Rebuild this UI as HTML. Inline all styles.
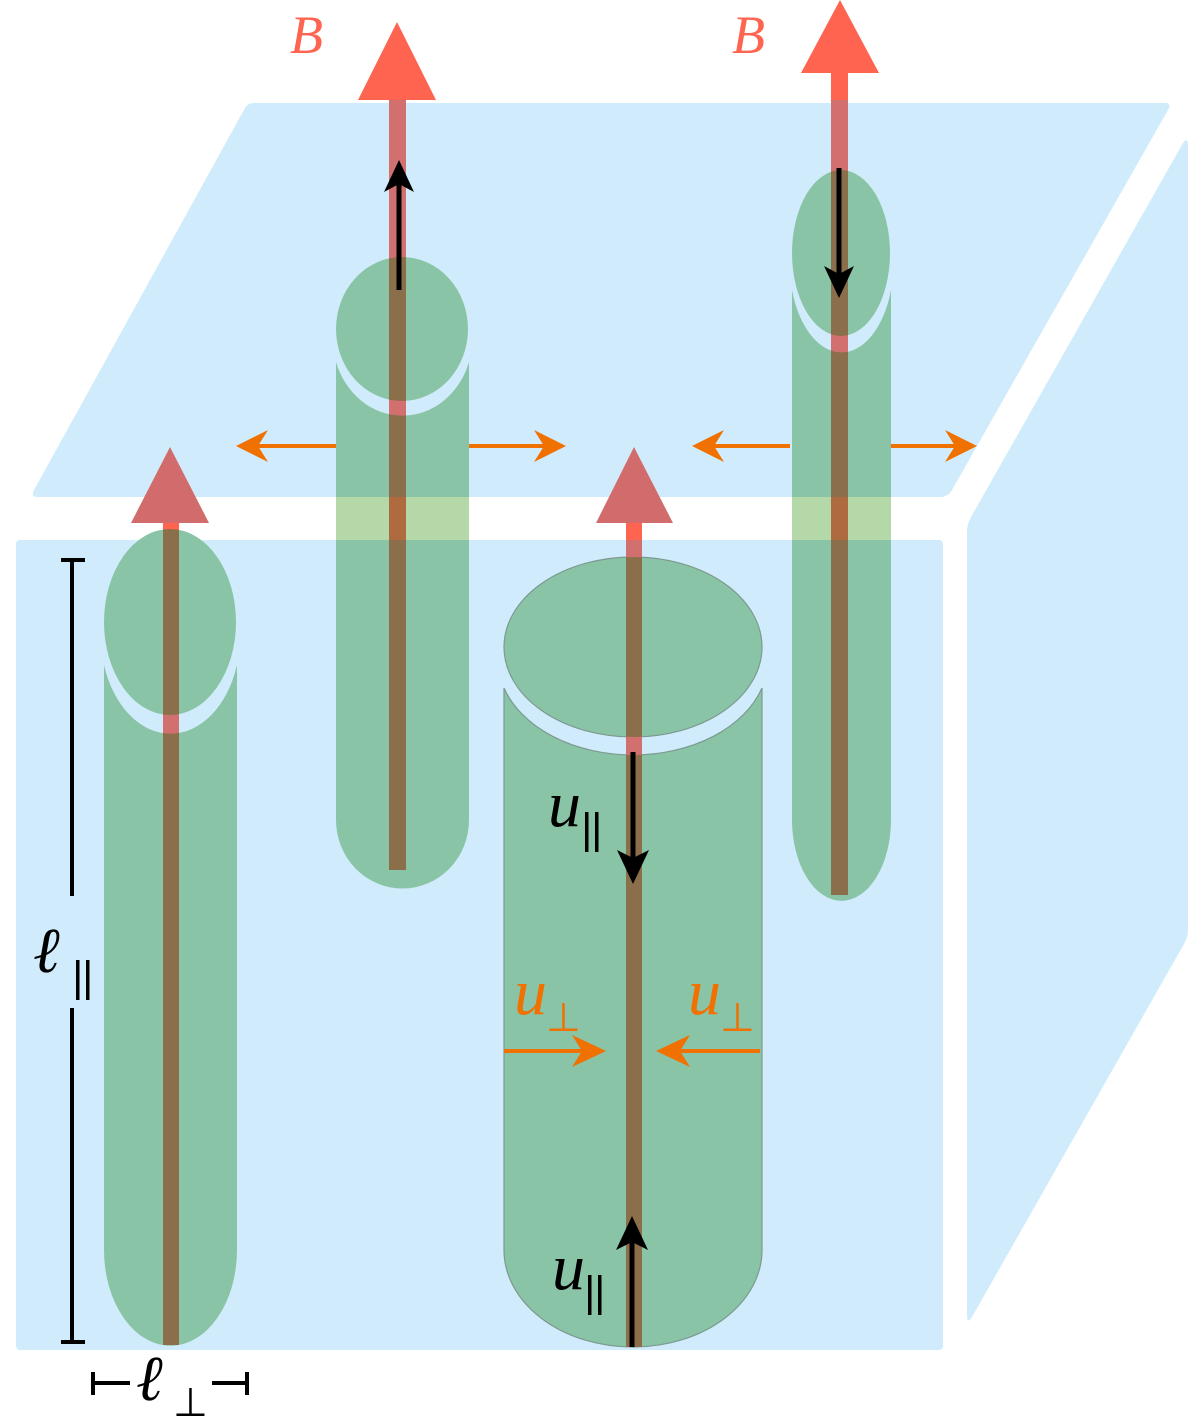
<!DOCTYPE html>
<html><head><meta charset="utf-8"><style>html,body{margin:0;padding:0;background:#fff}svg{display:block}</style></head>
<body>
<svg width="1200" height="1421" viewBox="0 0 1200 1421" xmlns="http://www.w3.org/2000/svg">
<defs>
<clipPath id="cyl">
  <ellipse cx="170" cy="622" rx="66" ry="93"/>
  <path d="M104 665 A70 100 0 0 0 237 665 L237 1250 A66 95 0 0 1 104 1250 Z"/>
  <ellipse cx="402" cy="329" rx="66" ry="72"/>
  <path d="M336 362 A70 78 0 0 0 469 362 L469 820 A66 68 0 0 1 336 820 Z"/>
  <ellipse cx="841" cy="253" rx="49" ry="83"/>
  <path d="M792 290 A52 90 0 0 0 891 290 L891 820 A49 80 0 0 1 792 820 Z"/>
  <ellipse cx="633" cy="647" rx="129" ry="90"/>
  <path d="M504 688 A135 95 0 0 0 762 688 L762 1250 A129 97 0 0 1 504 1250 Z"/>
</clipPath>
</defs>
<path d="M34 490 L245 108 Q248 103 254 103 L1165 103 Q1172 103 1168 110 L952 490 Q948 497 940 497 L38 497 Q30 497 34 490 Z" fill="#d0ecfc"/>
<rect x="16" y="540" width="927" height="810" rx="4" fill="#d0ecfc"/>
<path d="M967 532 Q967 524 971 517 L1183 143 Q1188 136 1188 146 L1188 930 Q1188 937 1184 944 L972 1317 Q967 1325 967 1315 Z" fill="#d0ecfc"/>
<rect x="389" y="95" width="17" height="10" fill="#ff6450"/>
<rect x="831" y="70" width="17" height="35" fill="#ff6450"/>
<g fill="#8ac4a6">
  <ellipse cx="170" cy="622" rx="66" ry="93"/>
  <path d="M104 665 A70 100 0 0 0 237 665 L237 1250 A66 95 0 0 1 104 1250 Z"/>
  <ellipse cx="402" cy="329" rx="66" ry="72"/>
  <path d="M336 362 A70 78 0 0 0 469 362 L469 820 A66 68 0 0 1 336 820 Z"/>
  <ellipse cx="841" cy="253" rx="49" ry="83"/>
  <path d="M792 290 A52 90 0 0 0 891 290 L891 820 A49 80 0 0 1 792 820 Z"/>
</g>
<g fill="#8ac4a6" stroke="#7c9a90" stroke-width="1.2">
  <ellipse cx="633" cy="647" rx="129" ry="90"/>
  <path d="M504 688 A135 95 0 0 0 762 688 L762 1250 A129 97 0 0 1 504 1250 Z"/>
</g>
<rect x="336" y="497" width="133" height="43" fill="#b4d8a8"/>
<rect x="792" y="497" width="99" height="43" fill="#b4d8a8"/>
<g fill="#d27070">
  <rect x="389" y="100" width="17" height="770"/>
  <rect x="831" y="100" width="17" height="795"/>
  <rect x="163" y="520" width="16" height="825"/>
  <rect x="626" y="520" width="16" height="827"/>
</g>
<rect x="389" y="497" width="17" height="43" fill="#b06a40"/>
<rect x="831" y="497" width="17" height="43" fill="#b06a40"/>
<rect x="163" y="520" width="16" height="20" fill="#ff6450"/>
<rect x="626" y="520" width="16" height="20" fill="#ff6450"/>
<g clip-path="url(#cyl)" fill="#8b6f4a">
  <rect x="389" y="100" width="17" height="397"/>
  <rect x="389" y="540" width="17" height="330"/>
  <rect x="831" y="100" width="17" height="397"/>
  <rect x="831" y="540" width="17" height="355"/>
  <rect x="163" y="520" width="16" height="825"/>
  <rect x="626" y="520" width="16" height="827"/>
</g>
<g fill="#ff6450">
  <polygon points="397,22 358,100 436,100"/>
  <polygon points="840,0 801,73 879,73"/>
</g>
<g fill="#d26c6c">
  <polygon points="170,447 131,523 209,523"/>
  <polygon points="634,447 596,523 673,523"/>
</g>
<g stroke="#000" stroke-width="5">
  <line x1="399" y1="290" x2="399" y2="180"/>
  <line x1="839" y1="168" x2="839" y2="280"/>
  <line x1="633" y1="752" x2="633" y2="865"/>
  <line x1="632" y1="1347" x2="632" y2="1240"/>
</g>
<g fill="#000">
  <polygon points="399,160 384,192 399,184 414,192"/>
  <polygon points="839,298 824,266 839,274 854,266"/>
  <polygon points="633,884 617,850 633,858 649,850"/>
  <polygon points="632,1216 616,1250 632,1242 648,1250"/>
</g>
<g stroke="#f07000" stroke-width="4">
  <line x1="336" y1="446" x2="250" y2="446"/>
  <line x1="469" y1="446" x2="552" y2="446"/>
  <line x1="790" y1="446" x2="706" y2="446"/>
  <line x1="891" y1="446" x2="963" y2="446"/>
  <line x1="504" y1="1051" x2="590" y2="1051"/>
  <line x1="760" y1="1051" x2="672" y2="1051"/>
</g>
<g fill="#f07000">
  <polygon points="236,446 268,430 258,446 268,462"/>
  <polygon points="566,446 534,430 544,446 534,462"/>
  <polygon points="692,446 724,430 714,446 724,462"/>
  <polygon points="977,446 945,430 955,446 945,462"/>
  <polygon points="606,1051 572,1035 582,1051 572,1067"/>
  <polygon points="656,1051 690,1035 680,1051 690,1067"/>
</g>
<g stroke="#000" stroke-width="4">
  <line x1="72" y1="560" x2="72" y2="896"/>
  <line x1="72" y1="1008" x2="72" y2="1342"/>
  <line x1="61" y1="560" x2="85" y2="560"/>
  <line x1="61" y1="1342" x2="85" y2="1342"/>
  <line x1="93" y1="1383" x2="130" y2="1383"/>
  <line x1="212" y1="1383" x2="247" y2="1383"/>
  <line x1="93" y1="1372" x2="93" y2="1395"/>
  <line x1="247" y1="1372" x2="247" y2="1395"/>
</g>
<g font-family="'Liberation Serif', serif" font-style="italic">
  <text x="290" y="53" font-size="54" fill="#ff6450">B</text>
  <text x="732" y="53" font-size="54" fill="#ff6450">B</text>
  <text x="548" y="826" font-size="66" fill="#000">u</text>
  <text x="552" y="1289" font-size="66" fill="#000">u</text>
  <text x="514" y="1014" font-size="66" fill="#f07000">u</text>
  <text x="688" y="1014" font-size="66" fill="#f07000">u</text>
  <text x="33" y="972" font-size="64" fill="#000">ℓ</text>
  <text x="136" y="1400" font-size="64" fill="#000">ℓ</text>
</g>
<g font-family="'DejaVu Sans', sans-serif" fill="#000">
  <rect x="585" y="812" width="3.5" height="40"/><rect x="595" y="812" width="3.5" height="40"/>
  <rect x="588" y="1275" width="3.5" height="40"/><rect x="598" y="1275" width="3.5" height="40"/>
  <rect x="76" y="960" width="3.5" height="40"/><rect x="86" y="960" width="3.5" height="40"/>
</g>
<g font-family="'DejaVu Sans', sans-serif" font-size="40">
  <text x="546" y="1031" fill="#f07000">⊥</text>
  <text x="720" y="1031" fill="#f07000">⊥</text>
  <text x="173" y="1416" fill="#000">⊥</text>
</g>
</svg>
</body></html>
